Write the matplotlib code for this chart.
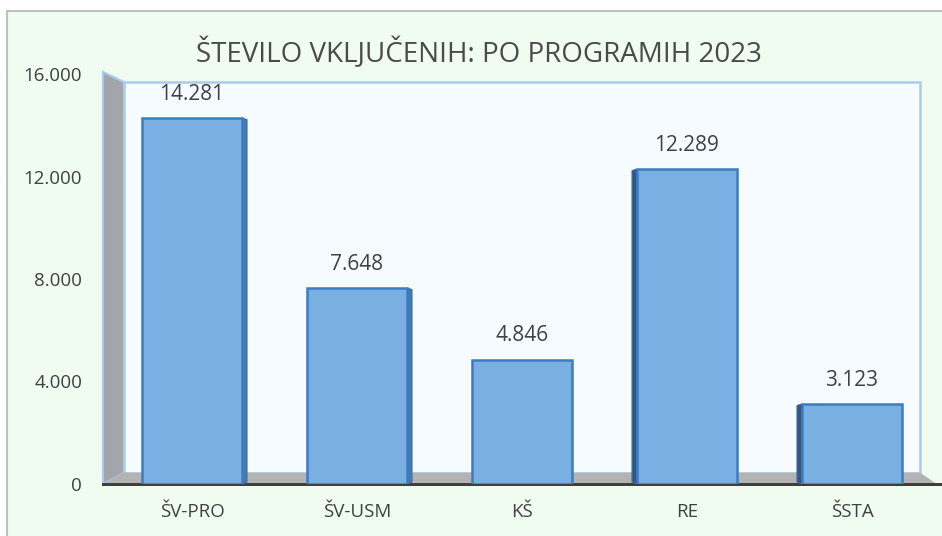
import matplotlib
matplotlib.use("Agg")
import matplotlib.pyplot as plt
from matplotlib.patches import Polygon

categories = ["ŠV-PRO", "ŠV-USM", "KŠ", "RE", "ŠSTA"]
values = [14281, 7648, 4846, 12289, 3123]
yticks = [0, 4000, 8000, 12000, 16000]
ytick_labels = ["0", "4.000", "8.000", "12.000", "16.000"]
title = "ŠTEVILO VKLJUČENIH: PO PROGRAMIH 2023"

W, H = 942, 536
plt.rcParams['font.family'] = ['Open Sans', 'DejaVu Sans']
fig = plt.figure(figsize=(W / 100, H / 100), dpi=100)
fig.patch.set_facecolor("white")

def P(x, y):
    return (x / W, 1 - y / H)

# outer chart area with gray border
fig.patches.append(Polygon([P(7, 11), P(948, 11), P(948, 542), P(7, 542)], closed=True,
                           facecolor="#effcef", edgecolor="#c0c0c0", linewidth=1.5,
                           transform=fig.transFigure, zorder=-5))
# back wall
fig.patches.append(Polygon([P(124, 82), P(920, 82), P(920, 473), P(124, 473)], closed=True,
                           facecolor="#f6fbff", edgecolor="#a9cbec", linewidth=1.8,
                           transform=fig.transFigure, zorder=-4))
# left wall
fig.patches.append(Polygon([P(103, 72), P(124, 82), P(124, 473), P(103, 484)], closed=True,
                           facecolor="#a3a6a9", edgecolor="#a9cbec", linewidth=1.5,
                           transform=fig.transFigure, zorder=-3))
# floor
fig.patches.append(Polygon([P(103, 484), P(124, 473), P(920, 473), P(936, 484)], closed=True,
                           facecolor="#b3b3b3", edgecolor="#b3b3b3", linewidth=0.5,
                           transform=fig.transFigure, zorder=-3))
# front floor edge
fig.patches.append(Polygon([P(102, 482.5), P(942, 482.5), P(942, 486), P(102, 486)], closed=True,
                           facecolor="#3f3f3f", edgecolor="none",
                           transform=fig.transFigure, zorder=-2))

# axes at the front plane
ax = fig.add_axes([103 / W, 1 - 484 / H, (935 - 103) / W, (484 - 74) / H])
ax.set_facecolor("none")
for s in ax.spines.values():
    s.set_visible(False)
x = list(range(len(categories)))
step_px = 165.0
ax.set_xlim((103 - 192) / step_px, (935 - 192) / step_px)
ax.set_ylim(0, 16000)

bw = 100 / step_px
ax.bar(x, values, width=bw, color="#7aafe2", edgecolor="#3b7cc4", linewidth=1.8, zorder=3)

# thin perspective side faces
side = 5 / step_px
for xi, v in zip(x, values):
    if xi < 2:
        xs = [xi + bw / 2, xi + bw / 2 + side, xi + bw / 2 + side, xi + bw / 2]
        ys = [0, 80, v - 60, v]
        ax.add_patch(Polygon(list(zip(xs, ys)), closed=True, facecolor="#4a78a8",
                             edgecolor="#3b6ea8", linewidth=0.8, zorder=2))
    elif xi > 2:
        xs = [xi - bw / 2, xi - bw / 2 - side, xi - bw / 2 - side, xi - bw / 2]
        ys = [0, 80, v - 60, v]
        ax.add_patch(Polygon(list(zip(xs, ys)), closed=True, facecolor="#35577d",
                             edgecolor="#3b6ea8", linewidth=0.8, zorder=2))
    ax.text(xi, v + 930, f"{v:,}".replace(",", "."), ha="center", va="center",
            fontsize=15, color="#404040", zorder=5)

ax.set_yticks(yticks)
ax.set_yticklabels(ytick_labels)
ax.set_xticks(x)
ax.set_xticklabels(categories)
ax.tick_params(axis="y", length=0, pad=15, labelsize=13.5, labelcolor="#404040")
ax.tick_params(axis="x", length=0, pad=14, labelsize=13.5, labelcolor="#404040")

fig.text(479 / W, 1 - 53 / H, title, ha="center", va="center", fontsize=20,
         color="#4a4a4a")

fig.savefig("out.png", dpi=100, facecolor=fig.get_facecolor())
